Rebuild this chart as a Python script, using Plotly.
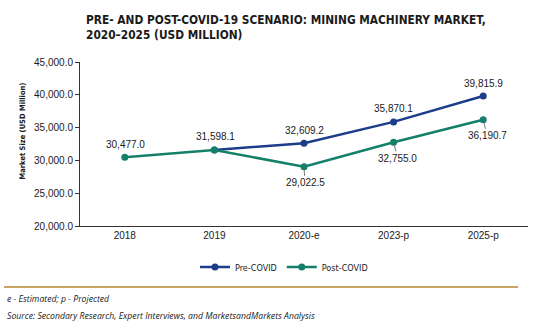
import plotly.graph_objects as go

# Market size, USD million
years = ["2018", "2019", "2020-e", "2023-p", "2025-p"]
pre_covid = [None, 31598.1, 32609.2, 35870.1, 39815.9]
post_covid = [30477.0, 31598.1, 29022.5, 32755.0, 36190.7]
y_ticks = [20000, 25000, 30000, 35000, 40000, 45000]

W, H = 540, 330
M_L, M_R, M_T, M_B = 80, 12, 62, 104
PW, PH = W - M_L - M_R, H - M_T - M_B

def px_x(x):
    return (x - M_L) / PW

def px_y(y):
    return (H - M_B - y) / PH

NAVY = "#1c3d8c"
TEAL = "#14806a"
TXT = "#1a1a1a"
COND = "DejaVu Sans Condensed, Liberation Sans, sans-serif"

fig = go.Figure()
fig.add_trace(go.Scatter(
    x=years, y=pre_covid, name="Pre-COVID", mode="lines+markers",
    line=dict(color=NAVY, width=2.5), marker=dict(size=7, color=NAVY),
))
fig.add_trace(go.Scatter(
    x=years, y=post_covid, name="Post-COVID", mode="lines+markers",
    line=dict(color=TEAL, width=2.5), marker=dict(size=7, color=TEAL),
))

def fmt(v):
    return f"{v:,.1f}"

lab_font = dict(family="Liberation Sans", size=10, color=TXT)
annotations = []
# Pre-COVID labels above the points (2019 shares its label with post-COVID)
for i in (2, 3, 4):
    annotations.append(dict(x=i, y=pre_covid[i], text=fmt(pre_covid[i]),
                            showarrow=False, yshift=13, font=lab_font))
# Post-COVID labels: above for the first two, below with leader lines afterwards
for i in (0, 1):
    annotations.append(dict(x=i, y=post_covid[i], text=fmt(post_covid[i]),
                            showarrow=False, yshift=13, xshift=1, font=lab_font))
for i in (2, 3, 4):
    annotations.append(dict(x=i, y=post_covid[i], text=fmt(post_covid[i]),
                            showarrow=True, arrowhead=0, arrowwidth=1, arrowcolor="#777777",
                            ax=4 if i > 2 else 1, ay=16, standoff=3, font=lab_font))

# Axis title
annotations.append(dict(xref="paper", yref="paper", x=px_x(15), y=px_y(131),
                        text="<b>Market Size (USD Million)</b>", textangle=-90, showarrow=False,
                        font=dict(family=COND, size=7.5, color=TXT)))
# Title
annotations.append(dict(xref="paper", yref="paper", x=px_x(84), y=px_y(11),
                        xanchor="left", yanchor="top", align="left", showarrow=False,
                        text="<b>PRE- AND POST-COVID-19 SCENARIO: MINING MACHINERY MARKET,<br>2020\u20132025 (USD MILLION)</b>",
                        font=dict(family=COND, size=11.8, color=TXT)))
# Footnotes
foot_font = dict(family="Open Sans", size=8.7, color=TXT)
annotations.append(dict(xref="paper", yref="paper", x=px_x(5), y=px_y(299),
                        xanchor="left", yanchor="middle", showarrow=False,
                        text="<i>e - Estimated; p - Projected</i>", font=foot_font))
annotations.append(dict(xref="paper", yref="paper", x=px_x(5), y=px_y(316),
                        xanchor="left", yanchor="middle", showarrow=False,
                        text="<i>Source: Secondary Research, Expert Interviews, and MarketsandMarkets Analysis</i>",
                        font=foot_font))

fig.update_layout(
    width=W, height=H,
    margin=dict(l=M_L, r=M_R, t=M_T, b=M_B, pad=0),
    paper_bgcolor="white", plot_bgcolor="white",
    showlegend=True,
    legend=dict(orientation="h", x=px_x(284), y=px_y(267), xanchor="center", yanchor="middle",
                font=dict(family=COND, size=9, color=TXT),
                itemwidth=30, tracegroupgap=0, bgcolor="rgba(0,0,0,0)"),
    annotations=annotations,
    shapes=[dict(type="line", xref="paper", yref="paper",
                 x0=px_x(4), x1=px_x(518), y0=px_y(287), y1=px_y(287),
                 line=dict(color="#b8862e", width=1.5))],
    xaxis=dict(type="category", range=[-0.5, 4.5], showgrid=False, zeroline=False,
               showline=True, linecolor="#333333", linewidth=1, ticks="",
               tickfont=dict(family="Liberation Sans", size=10, color=TXT)),
    yaxis=dict(range=[20000, 45000], tickvals=y_ticks,
               ticktext=[fmt(v) for v in y_ticks], showgrid=False, zeroline=False,
               showline=True, linecolor="#333333", linewidth=1,
               ticks="outside", ticklen=4, tickcolor="#333333",
               tickfont=dict(family="Liberation Sans", size=10, color=TXT)),
)

fig.write_html("out.html")
